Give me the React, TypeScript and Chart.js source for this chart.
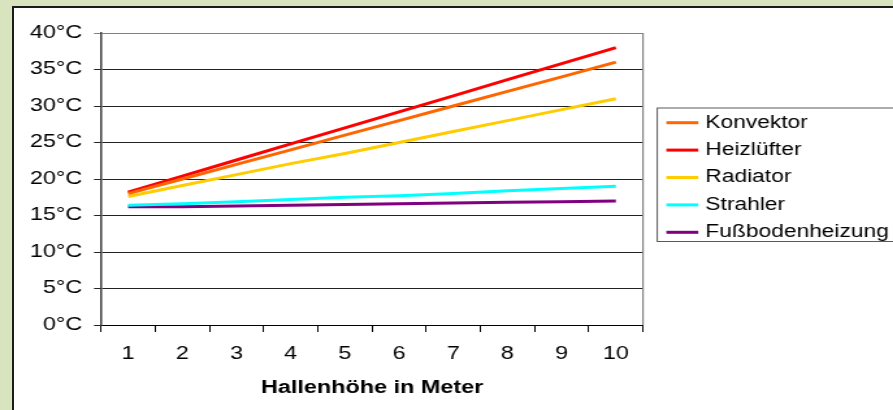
import React, { useEffect, useRef } from "react";
import { Chart, registerables } from "chart.js";

Chart.register(...registerables);

const categories = ["1", "2", "3", "4", "5", "6", "7", "8", "9", "10"];
const konvektor = [18, 20, 22, 24, 26, 28, 30, 32, 34, 36];
const heizluefter = [18.2, 20.4, 22.6, 24.8, 27, 29.2, 31.4, 33.6, 35.8, 38];
const radiator = [17.6, 19.1, 20.6, 22.1, 23.5, 25, 26.5, 28, 29.5, 31];
const strahler = [16.4, 16.6, 16.9, 17.2, 17.5, 17.7, 18, 18.4, 18.7, 19];
const fussboden = [16.2, 16.2, 16.3, 16.4, 16.5, 16.6, 16.7, 16.8, 16.9, 17];
const seriesNames = ["Konvektor", "Heizlüfter", "Radiator", "Strahler", "Fußbodenheizung"];
const seriesColors = ["#FF6600", "#FF0000", "#FFCC00", "#00FFFF", "#800080"];
const yTickValues = [0, 5, 10, 15, 20, 25, 30, 35, 40];
const xTitle = "Hallenhöhe in Meter";
const unit = "°C";

const FONT = "'Liberation Sans', Arial, sans-serif";
const STRETCH = 1.3;
const W = 687;
const H = 410;

const boxLegend = {
  id: "boxLegend",
  afterDraw(chart: any) {
    const { ctx, chartArea } = chart;
    const left = chartArea.right + 11;
    const top = 107.5;
    const bottom = 241;
    ctx.save();
    ctx.fillStyle = "#ffffff";
    ctx.fillRect(left, top, chart.width - left + 20, bottom - top);
    ctx.strokeStyle = "#5a5a5a";
    ctx.lineWidth = 1;
    ctx.strokeRect(left, top + 0.5, chart.width - left + 20, bottom - top);
    ctx.font = `17.5px ${FONT}`;
    ctx.textBaseline = "middle";
    ctx.textAlign = "left";
    chart.data.datasets.forEach((ds: any, i: number) => {
      const y = top + 15.2 + i * 27.4;
      ctx.strokeStyle = ds.borderColor;
      ctx.lineWidth = 3;
      ctx.beginPath();
      ctx.moveTo(left + 7, y);
      ctx.lineTo(left + 31.5, y);
      ctx.stroke();
      ctx.fillStyle = "#000";
      ctx.fillText(ds.label, left + 37, y);
    });
    ctx.restore();
  },
};

const plotBorder = {
  id: "plotBorder",
  beforeDatasetsDraw(chart: any) {
    const { ctx, chartArea } = chart;
    ctx.save();
    ctx.strokeStyle = "#808080";
    ctx.lineWidth = 1.2;
    ctx.beginPath();
    ctx.moveTo(chartArea.right, chartArea.top);
    ctx.lineTo(chartArea.right, chartArea.bottom);
    ctx.stroke();
    ctx.restore();
  },
};

export default function App() {
  const ref = useRef<HTMLCanvasElement | null>(null);

  useEffect(() => {
    if (!ref.current) return;
    const series = [konvektor, heizluefter, radiator, strahler, fussboden];
    const chart = new Chart(ref.current, {
      type: "line",
      data: {
        labels: categories,
        datasets: series.map((d, i) => ({
          label: seriesNames[i],
          data: d,
          borderColor: seriesColors[i],
          backgroundColor: seriesColors[i],
          borderWidth: 3,
          pointRadius: 0,
          tension: 0,
          fill: false,
        })),
      },
      options: {
        responsive: false,
        animation: false,
        events: [],
        layout: { padding: { left: 0, top: 33, right: W - 494.6, bottom: 0 } },
        plugins: {
          legend: { display: false },
          tooltip: { enabled: false },
        },
        scales: {
          x: {
            type: "category",
            offset: true,
            afterFit: (s: any) => {
              s.height = 85;
            },
            grid: {
              offset: true,
              drawOnChartArea: false,
              drawTicks: true,
              tickLength: 7,
              color: "#000",
              lineWidth: 1,
            },
            border: { display: true, color: "#000", width: 1 },
            ticks: {
              color: "#000",
              padding: 11,
              font: { family: FONT, size: 18 },
              maxRotation: 0,
              autoSkip: false,
            },
            title: {
              display: true,
              text: xTitle,
              color: "#000",
              font: { family: FONT, size: 18, weight: "bold" },
              padding: { top: 0, bottom: 11 },
            },
          },
          y: {
            min: 0,
            max: 40,
            afterFit: (s: any) => {
              s.width = 77.7;
            },
            afterBuildTicks: (s: any) => {
              s.ticks = yTickValues.map((v) => ({ value: v }));
            },
            grid: {
              color: (c: any) => (c.tick && c.tick.value === 40 ? "#808080" : "#222"),
              lineWidth: 1,
              drawTicks: true,
              tickLength: 5.4,
            },
            border: { display: true, color: "#3a3a3a", width: 1.5 },
            ticks: {
              color: "#000",
              padding: 9,
              font: { family: FONT, size: 18 },
              callback: (v: any) => `${v}${unit}`,
            },
          },
        },
      },
      plugins: [plotBorder, boxLegend],
    });
    return () => chart.destroy();
  }, []);

  return (
    <div
      style={{
        position: "fixed",
        left: 0,
        top: 0,
        width: 893,
        height: 410,
        overflow: "hidden",
        background: "#D7E4BD",
      }}
    >
      <div
        style={{
          position: "absolute",
          left: 12,
          top: 6,
          width: 920,
          height: 430,
          background: "#ffffff",
          border: "2px solid #1b1b1b",
        }}
      />
      <canvas
        ref={ref}
        width={W}
        height={H}
        style={{
          position: "absolute",
          left: 0,
          top: 0,
          width: W,
          height: H,
          transform: `scaleX(${STRETCH})`,
          transformOrigin: "0 0",
        }}
      />
    </div>
  );
}
